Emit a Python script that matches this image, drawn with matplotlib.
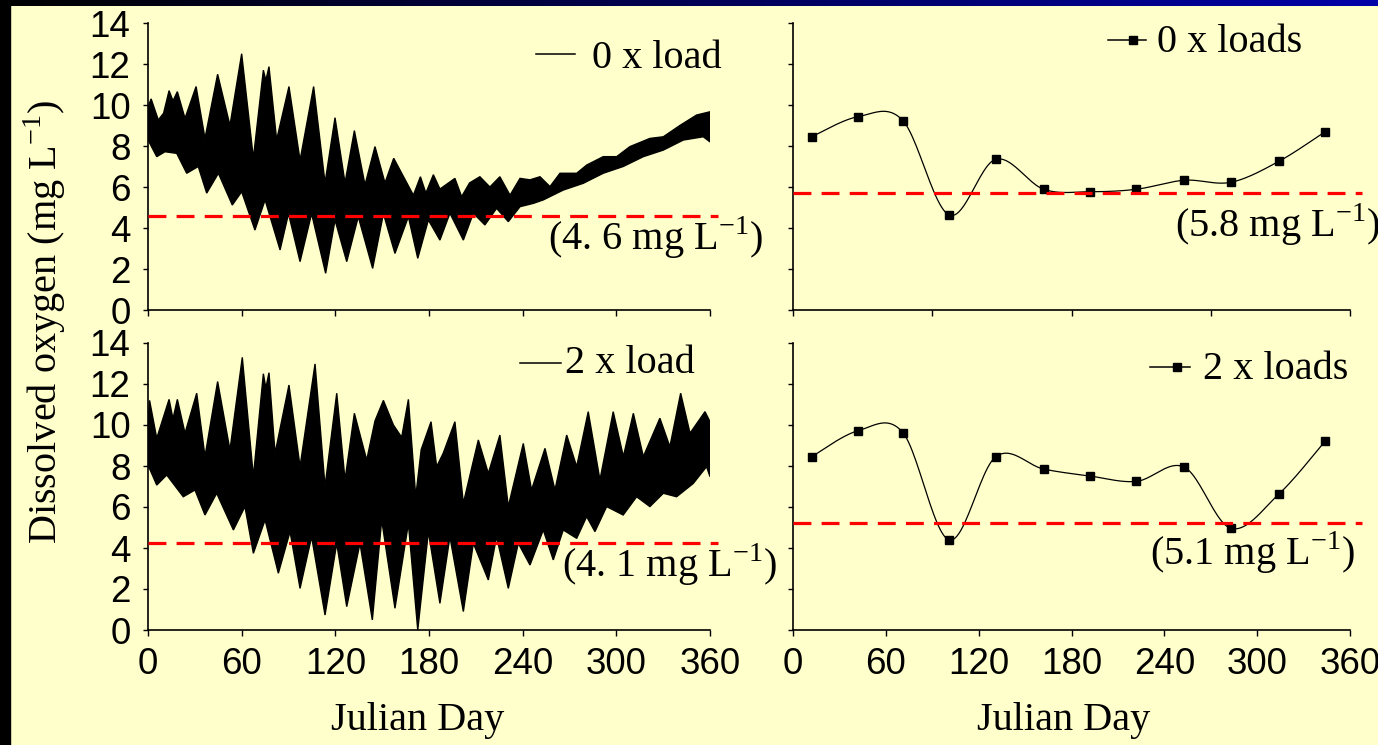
import numpy as np
import matplotlib
matplotlib.use("Agg")
import matplotlib.pyplot as plt
from matplotlib.colors import LinearSegmentedColormap
from matplotlib.patches import Rectangle

CREAM = "#FFFFCC"
RED = "#FF0000"
SERIF = "Liberation Serif"
SANS = "Liberation Sans"
plt.rcParams.update({"font.family": SANS, "mathtext.fontset": "custom",
                     "mathtext.rm": SERIF, "axes.edgecolor": "black"})

# ---- daily model output, read as upper / lower envelopes (day, mg/L) ----
tl_up_day = [0, 2, 6.6, 10, 13.5, 16, 18.8, 23.7, 30.8, 36.5, 44.6, 52.5, 60, 67.5,
             73.9, 75.5, 77.5, 82.4, 90.3, 97.4, 106.1, 113.4, 119.8, 126.2, 132.2,
             139, 145.4, 151.8, 157.4, 170, 174.5, 178, 182.8, 187, 196.6, 200.9, 206,
             212.6, 219, 225.4, 231.9, 238.3, 244.7, 251.1, 257.5, 263.9, 274.6, 281,
             291.6, 300.2, 308.7, 321.5, 330.1, 340.7, 351.4, 360]
tl_up_val = [9.9, 10.3, 9.27, 9.6, 10.7, 10.2, 10.65, 9.35, 10.9, 8.37, 11.5, 9.0, 12.5, 7.4,
             11.7, 11.2, 11.87, 8.3, 10.9, 7.3, 10.9, 6.2, 9.38, 6.2, 8.75,
             6.1, 7.97, 6.2, 7.4, 5.6, 6.5, 5.7, 6.6, 5.9, 6.42, 5.53, 6.2,
             6.5, 6.0, 6.5, 5.6, 6.42, 6.35, 6.5, 6.02, 6.67, 6.67, 7.07,
             7.48, 7.48, 7.97, 8.37, 8.45, 9.0, 9.51, 9.67]
tl_lo_day = [0, 5.6, 10.9, 18.4, 24.8, 32.2, 37.6, 45.1, 54, 60, 68.5, 75, 84.6, 90, 97.4,
             104.8, 113.8, 119.8, 127.3, 134.7, 143.9, 150.8, 158.2, 166.8, 172.8, 179.6,
             187, 193.4, 202, 208.4, 215.8, 223.3, 230.8, 238.3, 246.8, 253.2, 266, 278.8,
             291.6, 304.4, 317.3, 330.1, 342.9, 355.7, 360]
tl_lo_val = [8.3, 7.48, 7.72, 7.64, 6.67, 7.0, 5.7, 6.67, 5.12, 5.77, 3.9, 5.37, 2.93, 4.7, 2.36,
             4.7, 1.79, 4.39, 2.36, 4.55, 2.03, 4.7, 2.76, 4.55, 2.52, 4.39,
             3.41, 4.72, 3.41, 4.72, 4.15, 4.96, 4.31, 5.04, 5.2, 5.37, 5.85, 6.18,
             6.67, 7.0, 7.48, 7.8, 8.29, 8.45, 8.2]

bl_up_day = [0, 1, 5.6, 13.5, 16, 18.8, 23.7, 31.2, 36.5, 44.6, 52.5, 60.4, 67.5, 73.9,
             75.5, 77.5, 81.4, 90.3, 97.4, 107, 113.4, 120.9, 126.2, 132.2, 140.1, 145.4,
             150.8, 157.2, 162.5, 166.8, 171.5, 175, 181.3, 184.9, 189.1, 196.6, 202,
             211.6, 218, 225.4, 230.8, 240.4, 245.7, 254.3, 260.7, 268.2, 274.6, 282,
             289.5, 298, 304.5, 310.9, 317.3, 327.9, 334.3, 341.2, 347.2, 356.8, 360]
bl_up_val = [10.2, 11.2, 9.35, 11.25, 10.3, 11.25, 9.6, 11.55, 8.46, 12.12, 8.78, 13.3, 7.48, 12.5,
             11.8, 12.55, 8.62, 11.95, 7.97, 12.98, 7.0, 11.55, 7.32, 10.57, 8.29, 10.2,
             11.2, 10.0, 9.4, 11.25, 6.5, 8.8, 10.16, 7.97, 8.62, 10.16, 6.18,
             9.27, 7.64, 9.51, 6.02, 9.1, 6.83, 8.86, 6.83, 9.51, 7.97, 10.65,
             7.32, 10.65, 8.46, 10.57, 8.46, 10.33, 8.94, 11.55, 9.6, 10.65, 10.16]
bl_lo_day = [0, 5.6, 12, 22.6, 30.1, 36.5, 44, 54.7, 62.1, 67.5, 75, 83.5, 91, 97.4, 104.8,
             113.4, 120.9, 127.3, 135.8, 143.7, 149.7, 158.2, 166.8, 172.8, 179.6, 187,
             193.4, 202, 208.4, 218, 223.3, 230.8, 237.2, 244.7, 253.2, 259.6, 266, 274.6,
             281, 286.3, 293.8, 304.4, 313, 321.5, 330.1, 338.6, 349.3, 357.8, 360]
bl_lo_val = [8.05, 7.07, 7.56, 6.5, 6.83, 5.61, 6.67, 4.88, 6.02, 3.74, 5.37, 2.77, 4.8, 2.03, 4.55,
             0.73, 4.23, 1.14, 4.23, 0.49, 5.37, 1.06, 5.2, 0.0, 4.8, 1.3,
             4.55, 0.9, 4.23, 2.44, 4.55, 2.03, 4.23, 3.17, 4.88, 3.42, 4.88, 4.47,
             5.53, 4.8, 6.02, 5.61, 6.5, 6.02, 6.67, 6.5, 7.15, 7.97, 7.48]

# ---- monthly values (right panels) ----
month_day = [12, 42, 71, 101, 131, 162, 192, 222, 253, 283, 314, 344]
do_0x = [8.45, 9.43, 9.24, 4.63, 7.35, 5.89, 5.77, 5.89, 6.33, 6.23, 7.25, 8.70]
do_2x = [8.45, 9.72, 9.63, 4.39, 8.45, 7.85, 7.51, 7.25, 7.94, 4.96, 6.63, 9.22]

# criterion lines (position) and their labels
crit_tl, crit_tr, crit_bl, crit_br = 4.6, 5.72, 4.22, 5.2
lab_tl = "(4. 6 mg L$^{\\mathregular{-1}}$)"
lab_tr = "(5.8 mg L$^{\\mathregular{-1}}$)"
lab_bl = "(4. 1 mg L$^{\\mathregular{-1}}$)"
lab_br = "(5.1 mg L$^{\\mathregular{-1}}$)"


def smooth(x, y, n=24):
    # Catmull-Rom path through the points, like a spreadsheet "smoothed line"
    p = np.column_stack([x, y]).astype(float)
    p = np.vstack([p[0], p, p[-1]])
    t = np.linspace(0, 1, n, endpoint=False)[:, None]
    out = []
    for i in range(1, len(p) - 2):
        p0, p1, p2, p3 = p[i - 1], p[i], p[i + 1], p[i + 2]
        out.append(0.5 * (2 * p1 + (-p0 + p2) * t + (2 * p0 - 5 * p1 + 4 * p2 - p3) * t ** 2
                          + (-p0 + 3 * p1 - 3 * p2 + p3) * t ** 3))
    out.append(p[-2][None])
    c = np.vstack(out)
    return c[:, 0], c[:, 1]


W, H = 1378, 745
fig = plt.figure(figsize=(W / 100, H / 100), dpi=100, facecolor=CREAM)


def box(x0, y0, x1, y1):
    return [x0 / W, 1 - y1 / H, (x1 - x0) / W, (y1 - y0) / H]


# slide frame: black strip at left, dark blue gradient on top
fig.patches.append(Rectangle((0, 0), 10 / W, 1, transform=fig.transFigure,
                             color="black", zorder=0))
bar = fig.add_axes(box(0, 0, W, 6))
bar.imshow(np.linspace(0, 1, 256)[None, :], aspect="auto",
           cmap=LinearSegmentedColormap.from_list("nv", ["#000000", "#0000A8"]))
bar.axis("off")

ax_tl = fig.add_axes(box(148, 23, 710, 310))
ax_tr = fig.add_axes(box(793, 23, 1350, 310))
ax_bl = fig.add_axes(box(148, 343, 710, 630))
ax_br = fig.add_axes(box(793, 343, 1350, 630))


def style(ax, xticks, xlabels, ylabels):
    ax.set_facecolor("none")
    ax.set_xlim(0, 360)
    ax.set_ylim(0, 14)
    ax.spines[["top", "right"]].set_visible(False)
    ax.spines[["left", "bottom"]].set_linewidth(1.2)
    ax.set_xticks(xticks)
    ax.set_yticks(range(0, 15, 2))
    ax.tick_params(axis="y", direction="out", length=3.6, width=1, pad=9,
                   labelsize=26.5, labelleft=ylabels)
    ax.tick_params(axis="x", direction="out", length=4.3, width=1, pad=8,
                   labelsize=26.5, labelbottom=xlabels)


style(ax_tl, range(0, 361, 60), False, True)
style(ax_tr, range(0, 361, 90), False, False)
style(ax_bl, range(0, 361, 60), True, True)
style(ax_br, range(0, 361, 60), True, False)

# left panels: dense daily series as filled envelope
for ax, ud, uv, ld, lv in [(ax_tl, tl_up_day, tl_up_val, tl_lo_day, tl_lo_val),
                           (ax_bl, bl_up_day, bl_up_val, bl_lo_day, bl_lo_val)]:
    ax.fill(np.r_[ud, ld[::-1]], np.r_[uv, lv[::-1]], color="black", lw=1.0)

# right panels: smoothed monthly lines with square markers
for ax, vals in [(ax_tr, do_0x), (ax_br, do_2x)]:
    sx, sy = smooth(month_day, vals)
    ax.plot(sx, sy, color="black", lw=0.9)
    ax.plot(month_day, vals, "s", color="black", ms=5.8)

# red dashed criterion lines
dash = dict(color=RED, lw=2.3, dashes=(5.6, 3.2), clip_on=False, zorder=3)
ax_tl.plot([0, 365], [crit_tl] * 2, **dash)
ax_bl.plot([0, 365], [crit_bl] * 2, **dash)
ax_tr.plot([0, 368], [crit_tr] * 2, **dash)
ax_br.plot([0, 368], [crit_br] * 2, **dash)

for ax, s, x, y in [(ax_tl, lab_tl, 0.712, 0.209), (ax_tr, lab_tr, 0.686, 0.254),
                    (ax_bl, lab_bl, 0.737, 0.185), (ax_br, lab_br, 0.641, 0.226)]:
    ax.text(x, y, s, family=SERIF, fontsize=29, va="baseline", ha="left",
            transform=ax.transAxes, clip_on=False)

# hand-made legends
ax_tl.plot([0.691, 0.760], [0.892, 0.892], color="black", lw=1.1, transform=ax_tl.transAxes)
ax_tl.text(0.790, 0.843, "0 x load", family=SERIF, fontsize=29, transform=ax_tl.transAxes)
ax_bl.plot([0.662, 0.734], [0.930, 0.930], color="black", lw=1.1, transform=ax_bl.transAxes)
ax_bl.text(0.742, 0.895, "2 x load", family=SERIF, fontsize=29, transform=ax_bl.transAxes)
ax_tr.plot([0.565, 0.634], [0.941, 0.941], color="black", lw=1.1, transform=ax_tr.transAxes)
ax_tr.plot([0.611], [0.941], "s", color="black", ms=5.8, transform=ax_tr.transAxes)
ax_tr.text(0.654, 0.899, "0 x loads", family=SERIF, fontsize=29, transform=ax_tr.transAxes)
ax_br.plot([0.641, 0.713], [0.916, 0.916], color="black", lw=1.1, transform=ax_br.transAxes)
ax_br.plot([0.689], [0.916], "s", color="black", ms=5.8, transform=ax_br.transAxes)
ax_br.text(0.736, 0.875, "2 x loads", family=SERIF, fontsize=29, transform=ax_br.transAxes)

# axis titles
for ax, xc in [(ax_bl, 0.479), (ax_br, 0.485)]:
    ax.set_xlabel("Julian Day", family=SERIF, fontsize=29)
    ax.xaxis.set_label_coords(xc, -0.25)
fig.text(45 / W, 1 - 322 / H, "Dissolved oxygen (mg L$^{\\mathregular{-1}}$)",
         family=SERIF, fontsize=29, rotation=90, ha="center", va="center")

fig.savefig("out.png", dpi=100, facecolor=CREAM)
